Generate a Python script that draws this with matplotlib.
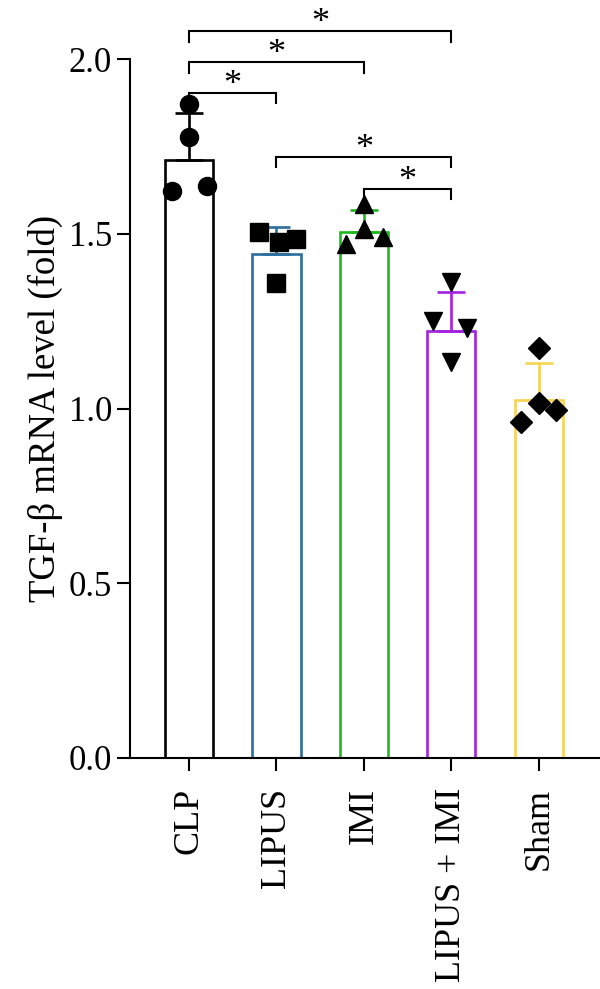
import matplotlib; matplotlib.use("Agg")
import matplotlib.pyplot as plt

plt.rcParams["font.family"] = ["Liberation Serif", "DejaVu Serif"]

groups = ["CLP", "LIPUS", "IMI", "LIPUS + IMI", "Sham"]
means = [1.71, 1.443, 1.506, 1.223, 1.023]
sds = [0.135, 0.077, 0.063, 0.111, 0.108]
points = [
    [1.871, 1.777, 1.623, 1.637],
    [1.506, 1.477, 1.486, 1.360],
    [1.586, 1.514, 1.471, 1.491],
    [1.363, 1.251, 1.229, 1.134],
    [1.174, 1.017, 0.997, 0.960],
]
offsets = [
    [0.0, 0.0, -0.19, 0.21],
    [-0.2, 0.03, 0.22, 0.0],
    [0.0, 0.0, -0.21, 0.22],
    [0.0, -0.21, 0.18, 0.0],
    [0.0, 0.0, 0.2, -0.2],
]
markers = ["o", "s", "^", "v", "D"]
msizes = [13, 13, 13, 13, 11]
colors = ["#000000", "#2C6E9E", "#1DB81D", "#A321E0", "#F6D452"]

# significance brackets: (i, j, line level)
pairs = [(0, 1, 1.903), (0, 2, 1.991), (0, 3, 2.080), (1, 3, 1.720), (2, 3, 1.628)]

fig = plt.figure(figsize=(6, 9.89), dpi=100)
ax = fig.add_axes([130/600, 1-758/989, 470/600, 699/989])
x = range(len(groups))

for i in x:
    ax.bar(i, means[i], width=0.55, color="white", edgecolor=colors[i], lw=1.9, zorder=2)
    ax.errorbar(i, means[i], yerr=[[0], [sds[i]]], color=colors[i], capsize=10,
                elinewidth=1.9, capthick=1.9, zorder=3)
    for v, dx in zip(points[i], offsets[i]):
        ax.plot(i + dx, v, marker=markers[i], ms=msizes[i], color="black", ls="none",
                zorder=4, clip_on=False)

tick_h = 0.03
for i, j, yl in pairs:
    ax.plot([i, i, j, j], [yl - tick_h, yl, yl, yl - tick_h], color="black", lw=1.5,
            clip_on=False, solid_joinstyle="miter")
    ax.text((i + j) / 2, yl - 0.025, "*", ha="center", va="bottom", fontsize=26, clip_on=False)

ax.set_xlim(-0.675, 4.7)
ax.set_ylim(0, 2.0)
ax.set_yticks([0, 0.5, 1.0, 1.5, 2.0])
ax.set_yticklabels(["0.0", "0.5", "1.0", "1.5", "2.0"])
ax.set_xticks(list(x))
ax.set_xticklabels(groups, rotation=90)
ax.tick_params(labelsize=25, width=1.5, length=9.5)
ax.tick_params(axis="x", pad=12, labelsize=26)
ax.set_ylabel("TGF-β mRNA level (fold)", fontsize=26.5, labelpad=4)
for s in ["top", "right"]:
    ax.spines[s].set_visible(False)
for s in ["left", "bottom"]:
    ax.spines[s].set_linewidth(1.5)

fig.savefig("out.png", dpi=100)
